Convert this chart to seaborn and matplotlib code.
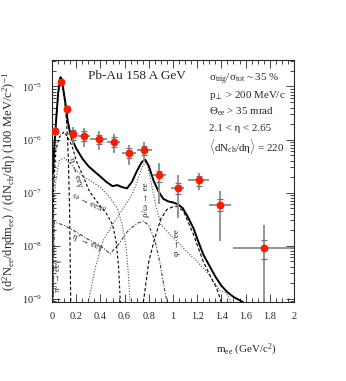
import numpy as np
import matplotlib
matplotlib.use('Agg')
import matplotlib.pyplot as plt
from matplotlib.ticker import MultipleLocator, FuncFormatter, LogLocator
import seaborn as sns

sns.set_theme(style='ticks')
plt.rcParams['font.family'] = ['Liberation Serif', 'DejaVu Serif']
plt.rcParams['mathtext.fontset'] = 'custom'
plt.rcParams['mathtext.rm'] = 'Liberation Serif'
plt.rcParams['mathtext.it'] = 'Liberation Serif:italic'
plt.rcParams['mathtext.bf'] = 'Liberation Serif:bold'

# CERES data points
mass = [0.022, 0.074, 0.121, 0.171, 0.262, 0.385, 0.51, 0.636, 0.763, 0.887, 1.039, 1.212, 1.386, 1.75]
mass_err = [0.02, 0.02, 0.02, 0.035, 0.05, 0.07, 0.055, 0.06, 0.06, 0.055, 0.055, 0.085, 0.09, 0.25]
yld = [1.45e-6, 1.23e-5, 3.8e-6, 1.25e-6, 1.18e-6, 1.03e-6, 9.1e-7, 5.6e-7, 6.4e-7, 2.1e-7, 1.23e-7, 1.7e-7, 5.9e-8, 9.1e-9]
stat = [3e-7, 1.5e-6, 6e-7, 4.5e-7, 4.5e-7, 4e-7, 3.5e-7, 2.3e-7, 2.6e-7, 1.5e-7, 9e-8, 6e-8, 4.7e-8, 1.55e-8]
syst = [2e-7, 1.2e-6, 4e-7, 2.5e-7, 2.4e-7, 2.1e-7, 1.9e-7, 1.2e-7, 1.3e-7, 5e-8, 3e-8, 3.5e-8, 1.5e-8, 3.6e-9]

# hadronic cocktail
tot_m = [0.008, 0.02, 0.035, 0.05, 0.062, 0.07, 0.08, 0.09, 0.11, 0.13, 0.15, 0.17, 0.2, 0.25, 0.3, 0.35,
         0.4, 0.45, 0.5, 0.54, 0.58, 0.62, 0.66, 0.7, 0.74, 0.77, 0.8, 0.84, 0.88, 0.92, 0.96, 1.0, 1.04,
         1.08, 1.12, 1.17, 1.2, 1.25, 1.3, 1.35, 1.4, 1.45, 1.5, 1.55, 1.58]
tot_y = [2.5e-7, 7.9e-7, 2.5e-6, 7.1e-6, 1.26e-5, 1.5e-5, 1.38e-5, 1.0e-5, 5.0e-6, 2.24e-6, 1.32e-6, 9.5e-7,
         6.8e-7, 4.4e-7, 3.16e-7, 2.5e-7, 2.0e-7, 1.58e-7, 1.32e-7, 1.38e-7, 1.26e-7, 1.2e-7, 1.58e-7, 2.5e-7,
         3.7e-7, 4.2e-7, 3.16e-7, 1.66e-7, 1.05e-7, 7.6e-8, 6.8e-8, 6.5e-8, 6.0e-8, 5.1e-8, 3.55e-8, 2.1e-8,
         1.35e-8, 6.8e-9, 4.2e-9, 2.6e-9, 1.74e-9, 1.32e-9, 1.07e-9, 9.3e-10, 8.5e-10]

pi0_m = [0.005, 0.008, 0.015, 0.03, 0.05, 0.062, 0.07, 0.08, 0.09, 0.11, 0.125, 0.135, 0.145, 0.15, 0.155]
pi0_y = [8.5e-10, 1e-7, 5e-7, 1.6e-6, 6.5e-6, 1.2e-5, 1.42e-5, 1.3e-5, 9.3e-6, 4.3e-6, 1.5e-6, 4.5e-7, 5e-8, 6e-9, 8.5e-10]

eta_m = [0.006, 0.012, 0.03, 0.06, 0.1, 0.13, 0.15, 0.17, 0.2, 0.25, 0.31, 0.38, 0.45, 0.5, 0.53, 0.55, 0.565]
eta_y = [8.5e-10, 1e-7, 6e-7, 1.1e-6, 1.4e-6, 1.1e-6, 9e-7, 7e-7, 4e-7, 2.2e-7, 1.05e-7, 6.3e-8, 4e-8, 2.5e-8,
         1.2e-8, 4e-9, 8.5e-10]

omd_m = [0.008, 0.015, 0.03, 0.06, 0.1, 0.15, 0.2, 0.26, 0.33, 0.4, 0.48, 0.54, 0.58, 0.61, 0.63, 0.645]
omd_y = [8.5e-10, 5e-8, 1.6e-7, 4e-7, 4.5e-7, 3.6e-7, 2.6e-7, 2e-7, 1.6e-7, 1.25e-7, 8e-8, 5e-8, 2.5e-8, 1e-8,
         3.2e-9, 8.5e-10]

etap_m = [0.01, 0.02, 0.1, 0.2, 0.3, 0.4, 0.48, 0.55, 0.62, 0.7, 0.755, 0.8, 0.85, 0.89, 0.92, 0.95]
etap_y = [8.5e-10, 2.8e-8, 2.4e-8, 1.8e-8, 1.3e-8, 1.0e-8, 7e-9, 1.05e-8, 1.8e-8, 2.6e-8, 2.9e-8, 2.4e-8,
          1.26e-8, 5e-9, 2e-9, 8.5e-10]

rho_m = [0.3, 0.36, 0.42, 0.5, 0.6, 0.66, 0.7, 0.74, 0.77, 0.79, 0.82, 0.86, 0.9, 0.975, 1.05, 1.11, 1.2,
         1.3, 1.39, 1.43, 1.46, 1.48]
rho_y = [8.5e-10, 4e-9, 1.2e-8, 2.5e-8, 5.5e-8, 9e-8, 1.5e-7, 2.9e-7, 3.7e-7, 3.2e-7, 1.5e-7, 5.5e-8, 2.5e-8,
         1.6e-8, 1.1e-8, 7.8e-9, 5e-9, 2.8e-9, 1.4e-9, 1.3e-9, 1.1e-9, 8.5e-10]

phi_m = [0.755, 0.8, 0.85, 0.9, 0.95, 1.0, 1.03, 1.085, 1.17, 1.25, 1.33, 1.36, 1.4]
phi_y = [8.5e-10, 5e-9, 1.4e-8, 3.2e-8, 4.8e-8, 5.4e-8, 5.5e-8, 4.5e-8, 1.6e-8, 5e-9, 2.1e-9, 1.6e-9, 8.5e-10]

x_ticks = [0, 0.2, 0.4, 0.6, 0.8, 1.0, 1.2, 1.4, 1.6, 1.8, 2.0]
y_ticks = [1e-9, 1e-8, 1e-7, 1e-6, 1e-5]


def main():
    fig = plt.figure(figsize=(3.46, 3.81), dpi=100)
    ax = fig.add_axes([0.1503, 0.2073, 0.6994, 0.6352])
    ax.set_yscale('log')

    # components
    comps = [
        (pi0_m, pi0_y, 'black', (0, (3, 2)), 0.8),
        (eta_m, eta_y, 'black', (0, (2.5, 2)), 0.8),
        (omd_m, omd_y, '0.3', (0, (1, 1.5)), 0.8),
        (etap_m, etap_y, '0.25', (0, (3, 1.5, 1, 1.5)), 0.8),
        (rho_m, rho_y, '0.3', (0, (1, 1.5)), 0.8),
        (phi_m, phi_y, 'black', (0, (3, 2)), 0.8),
    ]
    for xs, ys, col, ls, lw in comps:
        sns.lineplot(x=xs, y=ys, ax=ax, color=col, linestyle=ls, linewidth=lw,
                     estimator=None, sort=False)
    sns.lineplot(x=tot_m, y=tot_y, ax=ax, color='black', linewidth=1.4, estimator=None, sort=False)

    # data
    ax.errorbar(mass, yld, xerr=mass_err, yerr=stat, fmt='none', ecolor='0.55',
                elinewidth=1.3, zorder=5)
    ax.errorbar(mass, yld, yerr=syst, fmt='none', ecolor='0.45', elinewidth=0,
                capsize=2.2, capthick=0.9, zorder=5)
    sns.scatterplot(x=mass, y=yld, ax=ax, color='#ff1a00', s=32, linewidth=0, zorder=6)

    ax.set_xlim(0, 2)
    ax.set_ylim(8.6e-10, 3.16e-5)
    ax.set_xticks(x_ticks)
    ax.set_yticks(y_ticks)
    ax.xaxis.set_major_formatter(FuncFormatter(lambda v, p: '%g' % v))
    ax.xaxis.set_minor_locator(MultipleLocator(0.05))
    ax.yaxis.set_minor_locator(LogLocator(subs=np.arange(2, 10)))
    ax.yaxis.set_minor_formatter(FuncFormatter(lambda v, p: ''))
    ax.tick_params(which='both', direction='in', top=True, right=True, labelsize=7.5,
                   width=0.6, pad=7)
    ax.tick_params(which='major', length=6)
    ax.tick_params(which='minor', length=3)
    for sp in ax.spines.values():
        sp.set_linewidth(0.8)

    ax.set_ylabel('(d$^2$N$_{\\rm ee}$/dηdm$_{\\rm ee}$) / (dN$_{\\rm ch}$/dη) (100 MeV/c$^2$)$^{-1}$',
                  fontsize=9)
    ax.yaxis.set_label_coords(-0.14, 0.5)
    ax.text(0.93, -0.2, 'm$_{\\rm ee}$ (GeV/c$^2$)', transform=ax.transAxes, fontsize=8,
            ha='right', va='center')

    ax.text(0.349, 0.934, 'Pb-Au 158 A GeV', transform=ax.transAxes, fontsize=9.5,
            ha='center', va='center')
    info = ['σ$_{\\rm trig}$/σ$_{\\rm tot}$ ~ 35 %',
            'p$_{\\perp}$ > 200 MeV/c',
            'Θ$_{\\rm ee}$ > 35 mrad',
            '2.1 < η < 2.65',
            '$\\langle$dN$_{\\rm ch}$/dη$\\rangle$ = 220']
    for i, line in enumerate(info):
        ax.text(0.649, 0.931 - i * 0.0698, line, transform=ax.transAxes, fontsize=7.9,
                ha='left', va='center_baseline')

    # curve labels
    lab = dict(fontsize=6.5, ha='center', va='center')
    ax.text(0.05, 10 ** -8.56, 'π$^0$ → eeγ', rotation=90, **lab)
    ax.text(0.19, 10 ** -6.62, 'η → eeγ', rotation=-72, **lab)
    ax.text(0.306, 10 ** -7.18, 'ω → eeπ$^0$', rotation=-27, **lab)
    ax.text(0.293, 10 ** -7.95, "η' → eeγ", rotation=-23, **lab)
    ax.text(0.777, 10 ** -7.14, 'ρ/ω → ee', rotation=90, **lab)
    ax.text(1.03, 10 ** -7.95, 'φ → ee', rotation=90, **lab)

    fig.savefig('out.png', dpi=100)


if __name__ == '__main__':
    main()
